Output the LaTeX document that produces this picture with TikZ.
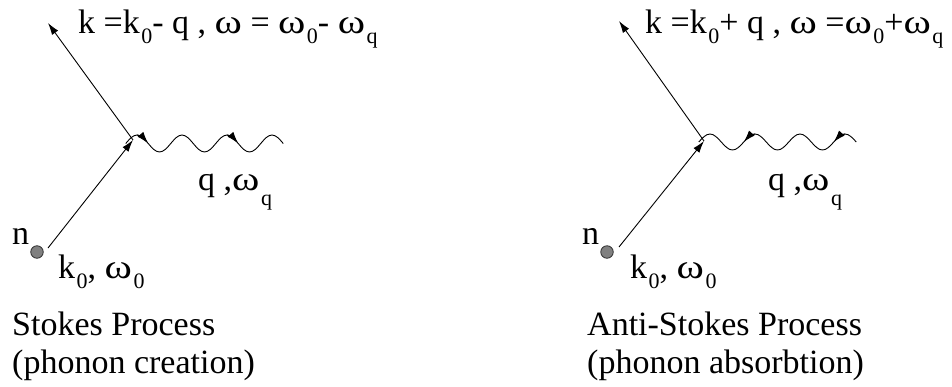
\documentclass[tikz,border=0pt]{standalone}
\usepackage{fontspec}
\usepackage{graphicx}
\setmainfont{Liberation Serif}
\usetikzlibrary{arrows.meta}
\newcommand{\sbs}[2][10pt]{\kern1.5pt\raisebox{-#1}{\fontsize{22}{22}\selectfont #2}}
\newcommand{\om}{\scalebox{1.22}[1]{ω}}
\begin{document}
\begin{tikzpicture}[x=1pt,y=-1pt,
  ln/.style={line width=0.9pt,-{Latex[length=12pt,width=7.5pt]}},
  wv/.style={line width=0.9pt},
  wa/.style={line width=0.9pt,-{Latex[length=12pt,width=7.5pt]}},
  lbl/.style={anchor=base west,inner sep=0pt,font=\fontsize{34}{40}\selectfont},
  dotn/.style={circle,fill=black!50,draw=black!80,line width=0.8pt,minimum size=12.5pt,inner sep=0pt}]
\useasboundingbox (0,0) rectangle (952,386);
% ---------- left: Stokes ----------
\node[dotn] (d1) at (37,252) {};
\coordinate (s1) at (48,248);
\coordinate (v1) at (133,140);
\coordinate (e1) at (48,23);
\draw[ln] (s1) -- (v1);
\draw[ln] (v1) -- (e1);
\draw[wv] (125.75,143.5) sin (137,135) cos (148.25,143.5) sin (159.5,152) cos (170.75,143.5)
  sin (182,135) cos (193.25,143.5) sin (204.5,152) cos (215.75,143.5)
  sin (227,135) cos (238.25,143.5) sin (249.5,152) cos (260.75,143.5)
  sin (272,135) cos (283.25,143.5);
\draw[wa] (137,135) cos (148.25,143.5);
\draw[wa] (227,135) cos (238.25,143.5);
\node[lbl] (t1) at (78,33) {k =k\sbs{0}- q , \om{} = \om\sbs{0}- \om\sbs{q}};
\node[lbl] (q1) at (198,190) {q ,\om\sbs[15pt]{q}};
\node[lbl] (n1) at (12,244) {n};
\node[lbl] (k1) at (58,278) {k\sbs{0}, \om\sbs{0}};
\node[lbl] (p1) at (12,335) {Stokes Process};
\node[lbl] (c1) at (12,373) {(phonon creation)};
% ---------- right: Anti-Stokes ----------
\node[dotn] (d2) at (607,252) {};
\coordinate (s2) at (619,247);
\coordinate (v2) at (704,141);
\coordinate (e2) at (619,21);
\draw[ln] (s2) -- (v2);
\draw[ln] (v2) -- (e2);
\draw[wv] (698.75,142) sin (710,134) cos (721.25,142) sin (732.5,150) cos (743.75,142)
  sin (755,134) cos (766.25,142) sin (777.5,150) cos (788.75,142)
  sin (800,134) cos (811.25,142) sin (822.5,150) cos (833.75,142)
  sin (845,134) cos (856.25,142);
\draw[wa] (755,134) cos (743.75,142);
\draw[wa] (845,134) cos (833.75,142);
\node[lbl] (t2) at (645,33) {k =k\sbs{0}+ q , \om{} =\om\sbs{0}+\om\sbs{q}};
\node[lbl] (q2) at (768,190) {q ,\om\sbs[15pt]{q}};
\node[lbl] (n2) at (582,244) {n};
\node[lbl] (k2) at (630,278) {k\sbs{0}, \om\sbs{0}};
\node[lbl] (p2) at (587,335) {Anti-Stokes Process};
\node[lbl] (c2) at (587,373) {(phonon absorbtion)};
\end{tikzpicture}
\end{document}
